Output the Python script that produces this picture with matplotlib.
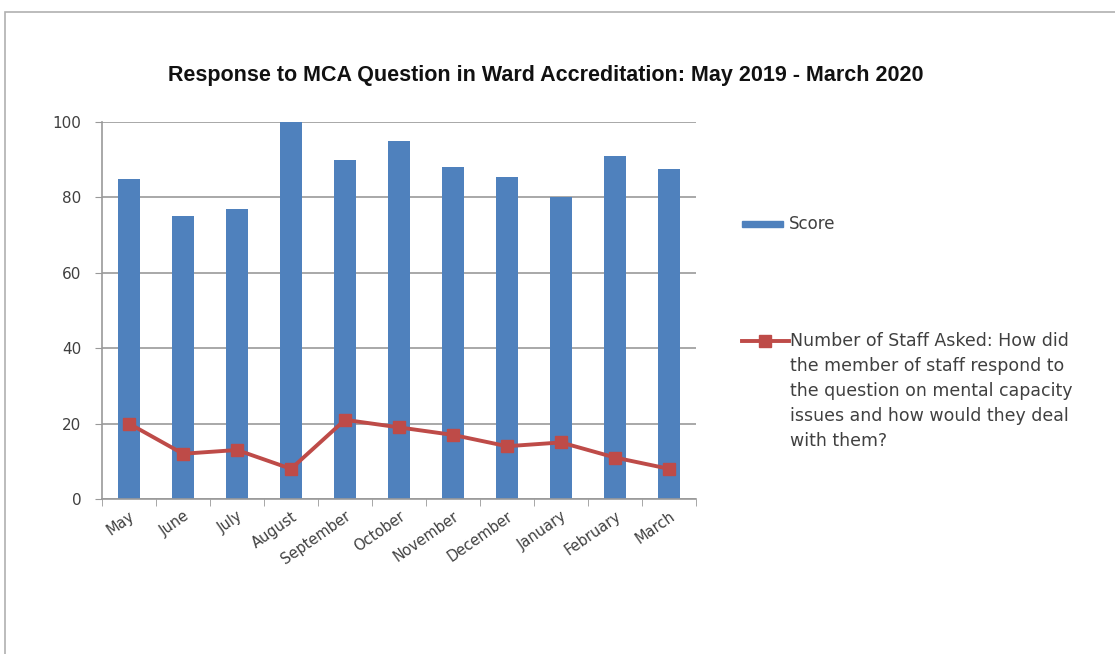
import numpy as np
import matplotlib
matplotlib.use('Agg')
import matplotlib.pyplot as plt
from matplotlib.patches import Rectangle
from matplotlib.lines import Line2D

months = ['May', 'June', 'July', 'August', 'September', 'October',
          'November', 'December', 'January', 'February', 'March']
score = [85, 75, 77, 100, 90, 95, 88, 85.5, 80, 91, 87.5]
staffAsked = [20, 12, 13, 8, 21, 19, 17, 14, 15, 11, 8]
yTicks = [0, 20, 40, 60, 80, 100]

titleText = 'Response to MCA Question in Ward Accreditation: May 2019 - March 2020'
scoreLabel = 'Score'
staffLabel = ('Number of Staff Asked: How did\nthe member of staff respond to\n'
              'the question on mental capacity\nissues and how would they deal\nwith them?')

barColor = '#4F81BD'
lineColor = '#BE4B48'
textColor = '#404040'
gridColor = '#999999'

plt.rcParams['font.family'] = 'DejaVu Sans'

fig = plt.figure(figsize=(11.15, 6.54), dpi=100)
# outer chart frame
fig.patches.append(Rectangle((5 / 1115, -0.1), 1.2, 1 - 12 / 654 + 0.1, transform=fig.transFigure,
                             fill=False, edgecolor='#b0b0b0', lw=1.2))

ax = fig.add_axes([102 / 1115, 1 - 499 / 654, 594 / 1115, 377 / 654])
x = np.arange(len(months))
ax.bar(x, score, width=0.4, color=barColor, zorder=2)
ax.plot(x, staffAsked, color=lineColor, lw=2.8, marker='s', markersize=9, zorder=3)

ax.set_xlim(-0.5, len(months) - 0.5)
ax.set_ylim(0, 100)
ax.set_yticks(yTicks)
ax.set_yticklabels([str(v) for v in yTicks], fontsize=11, color=textColor)
ax.yaxis.grid(True, color=gridColor, lw=1.2)
ax.set_axisbelow(True)

ax.set_xticks(x)
ax.set_xticklabels(months, rotation=35, ha='right', rotation_mode='anchor', fontsize=10.5, color=textColor)
ax.set_xticks(np.arange(len(months) + 1) - 0.5, minor=True)
ax.tick_params(axis='x', which='major', length=0, pad=7)
ax.tick_params(axis='x', which='minor', length=5, color=gridColor)
ax.tick_params(axis='y', length=5, color=gridColor, pad=10)

for side in ['top', 'right']:
    ax.spines[side].set_visible(False)
for side in ['left', 'bottom']:
    ax.spines[side].set_color(gridColor)
    ax.spines[side].set_linewidth(1.2)

fig.text(546 / 1115, 1 - 76 / 654, titleText, ha='center', va='center', fontsize=15.5,
         fontweight='bold', color='#111111', family='Liberation Sans')

# legend drawn by hand on the right
fig.add_artist(Rectangle((742 / 1115, 1 - 227 / 654), 41 / 1115, 6 / 654,
                         transform=fig.transFigure, color=barColor))
fig.text(789 / 1115, 1 - 224 / 654, scoreLabel, ha='left', va='center', fontsize=12, color=textColor)
fig.add_artist(Line2D([742 / 1115, 789 / 1115], [1 - 341 / 654] * 2, transform=fig.transFigure,
                      color=lineColor, lw=2.8))
fig.add_artist(Line2D([765 / 1115], [1 - 341 / 654], transform=fig.transFigure,
                      color=lineColor, marker='s', markersize=9, lw=0))
fig.text(790 / 1115, 1 - 332 / 654, staffLabel, ha='left', va='top', fontsize=12.5,
         color=textColor, linespacing=1.5)

fig.savefig('out.png', dpi=100)
